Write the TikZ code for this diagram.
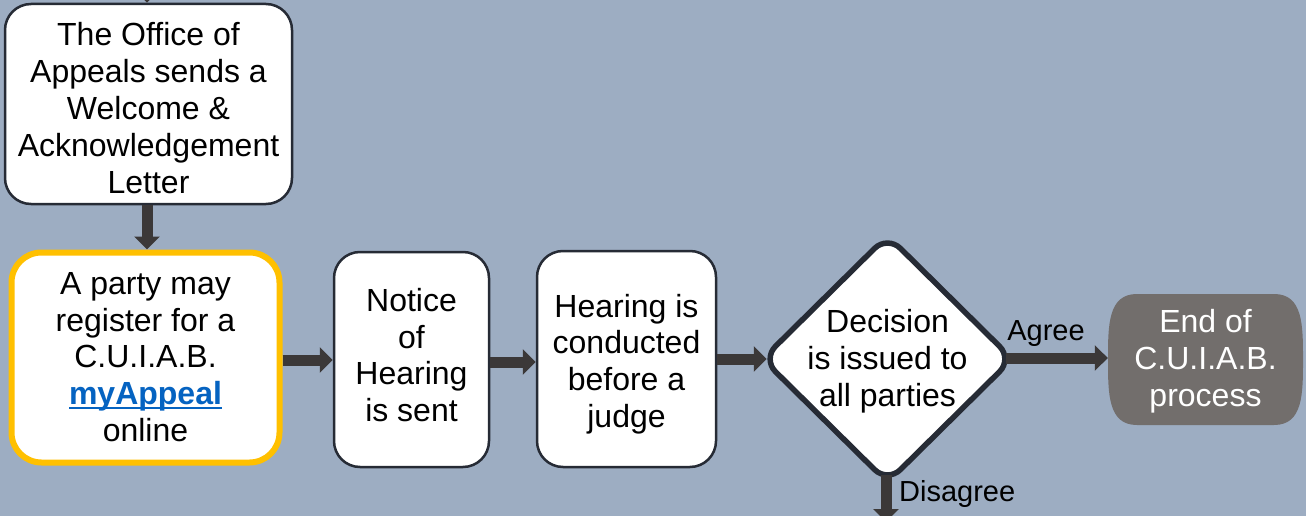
\documentclass[tikz,border=0pt]{standalone}
\usepackage{fontspec}
\setmainfont{Liberation Sans}
\usetikzlibrary{arrows.meta,shapes.geometric}
\definecolor{bg}{RGB}{157,173,194}
\definecolor{boxline}{RGB}{38,43,53}
\definecolor{arrowc}{RGB}{59,56,56}
\definecolor{endgray}{RGB}{114,110,108}
\definecolor{linkblue}{RGB}{5,99,193}
\definecolor{hiyellow}{RGB}{255,192,0}
\newcommand\linkul[1]{\leavevmode\setbox0\hbox{#1}\rlap{\raisebox{-4.5pt}{\color{linkblue}\rule{\wd0}{2.6pt}}}\box0}
\begin{document}
\begin{tikzpicture}[x=1pt,y=-1pt,
  box/.style={draw=boxline, line width=2.5pt, fill=white, rounded corners=26pt, inner sep=0pt},
  txt/.style={align=center, inner sep=0pt, font=\fontsize{32}{36.8}\selectfont},
  flow/.style={draw=arrowc, line width=11pt, -{Triangle[length=13pt,width=25pt]}},
  lbl/.style={font=\fontsize{29}{33}\selectfont, inner sep=0pt}]
\useasboundingbox (0,0) rectangle (1306,516);
\fill[bg] (0,0) rectangle (1306,516);
\clip (0,0) rectangle (1306,516);
% end shape background
\fill[endgray] (1137,294) -- (1274,294) .. controls (1303,294) and (1303,325) .. (1303,359.5) .. controls (1303,394) and (1303,425) .. (1274,425) -- (1137,425) .. controls (1108,425) and (1108,394) .. (1108,359.5) .. controls (1108,325) and (1108,294) .. (1137,294) -- cycle;
% boxes
\node[box, minimum width=287pt, minimum height=200pt] (office) at (148.5,104) {};
\node[box, draw=hiyellow, line width=6pt, rounded corners=30pt, minimum width=268pt, minimum height=210pt] (party) at (145.5,357.5) {};
\node[box, minimum width=155pt, minimum height=215pt] (notice) at (411.5,359.5) {};
\node[box, minimum width=179pt, minimum height=216pt] (hearing) at (626.5,359) {};
\node[diamond, draw=boxline, line width=5.5pt, fill=white, rounded corners=18pt, minimum width=252pt, minimum height=249pt, inner sep=0pt] (decision) at (887.5,359) {};
\node[inner sep=0pt, minimum width=195pt, minimum height=131pt] (end) at (1205.5,359.5) {};
% texts
\node[txt] (office-t) at (148.5,108) {The Office of\\Appeals sends a\\Welcome \&\\Acknowledgement\\Letter};
\node[txt] (party-t) at (145.5,357) {A party may\\register for a\\C.U.I.A.B.\\{\color{linkblue}\linkul{\bfseries myAppeal}}\\online};
\node[txt] (notice-t) at (411.5,355) {Notice\\of\\Hearing\\is sent};
\node[txt] (hearing-t) at (626.5,364) {Hearing is\\conducted\\before a\\judge};
\node[txt] (decision-t) at (887.5,361) {Decision\\is issued to\\all parties};
\node[txt, text=white] (end-t) at (1205.5,361) {End of\\C.U.I.A.B.\\process};
% connectors
\coordinate (topin) at (147,-30);
\coordinate (downout) at (886,522);
\draw[flow] (topin) -- (topin |- office.north);
\draw[flow] (office.south -| topin) -- (party.north -| topin);
\draw[flow] ([yshift=-2.5pt]party.east) -- ([yshift=-2.5pt]party.east -| notice.west);
\draw[flow] ([yshift=-2.5pt]notice.east) -- ([yshift=-2.5pt]notice.east -| hearing.west);
\draw[flow, shorten >=-8pt] (hearing.east) -- (hearing.east -| decision.west);
\draw[flow, shorten <=-10pt] ([yshift=1pt]decision.east) -- ([yshift=1pt]decision.east -| end.west);
\draw[flow, shorten <=-11pt] (decision.south -| downout) -- (downout);
\node[lbl] (agree) at (1046,334) {Agree};
\node[lbl, anchor=west] (disagree) at (899,494) {Disagree};
\end{tikzpicture}
\end{document}
